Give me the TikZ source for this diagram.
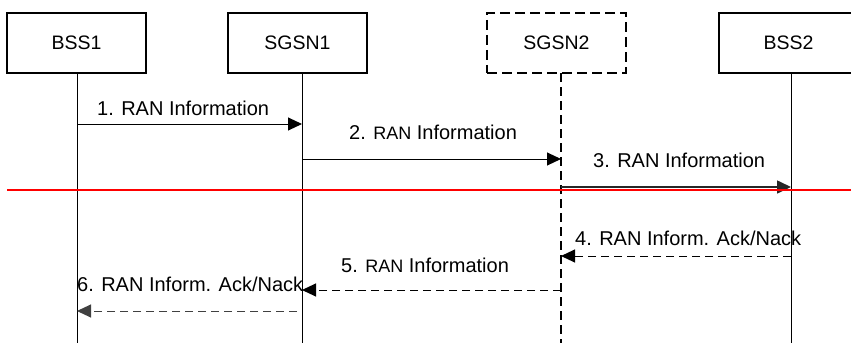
\documentclass[tikz,border=0pt]{standalone}
\usepackage{fontspec}
\setmainfont{Liberation Sans}
\usetikzlibrary{arrows.meta}

\tikzset{
  entity/.style={draw, line width=1.3pt, minimum width=139pt,
    minimum height=60pt, inner sep=0pt, font=\fontsize{19.5}{22}\selectfont},
  life/.style={line width=1pt},
  msg/.style={line width=1pt, -{Triangle[length=14pt,width=13pt]}},
  reply/.style={msg, dash pattern=on 8pt off 5pt},
  lbl/.style={inner sep=0pt, anchor=base west, font=\fontsize{20}{22}\selectfont},
}
\newcommand{\smallran}{{\fontsize{18}{20}\selectfont RAN}}

\begin{document}
\begin{tikzpicture}[x=1pt,y=-1pt]
    \useasboundingbox (0,0) rectangle (851,345);
    % entities
    \node[entity] (bss1) at (76.5,43) {BSS1};
    \node[entity] (sgsn1) at (297.5,43) {SGSN1};
    \node[entity, line width=2pt, dash pattern=on 10pt off 5pt] (sgsn2) at (556.5,43) {SGSN2};
    \node[entity] (bss2) at (788.5,43) {BSS2};
    % lifelines
    \coordinate (l1) at (77,73);
    \coordinate (l2) at (302,73);
    \coordinate (l3) at (561,73);
    \coordinate (l4) at (791,73);
    \draw[life] (l1) -- (l1 |- 0,343);
    \draw[life] (l2) -- (l2 |- 0,343);
    \draw[line width=2pt, dash pattern=on 9pt off 5pt] (l3) -- (l3 |- 0,343);
    \draw[life] (l4) -- (l4 |- 0,343);
    % messages
    \draw[msg] (l1 |- 0,124) -- (l2 |- 0,124);
    \node[lbl] (m1) at (97,115) {1. RAN Information};
    \draw[msg] (l2 |- 0,159) -- (l3 |- 0,159);
    \node[lbl] (m2) at (349,139) {2. \smallran{} Information};
    \draw[msg, line width=1.6pt, black!85] (l3 |- 0,187) -- (l4 |- 0,187);
    \node[lbl] (m3) at (593,167) {3. RAN Information};
    \draw[red, line width=1.5pt] (7,190) -- (851,190);
    \draw[reply] (l4 |- 0,256) -- (l3 |- 0,256);
    \node[lbl] (m4) at (575,245) {4. RAN Inform. Ack/Nack};
    \draw[reply] (l3 |- 0,290) -- (l2 |- 0,290);
    \node[lbl] (m5) at (341,272) {5. \smallran{} Information};
    \coordinate (m6start) at (297,311);
    \draw[reply, black!75] (m6start) -- (l1 |- 0,311);
    \node[lbl] (m6) at (77,291) {6. RAN Inform. Ack/Nack};
\end{tikzpicture}
\end{document}
